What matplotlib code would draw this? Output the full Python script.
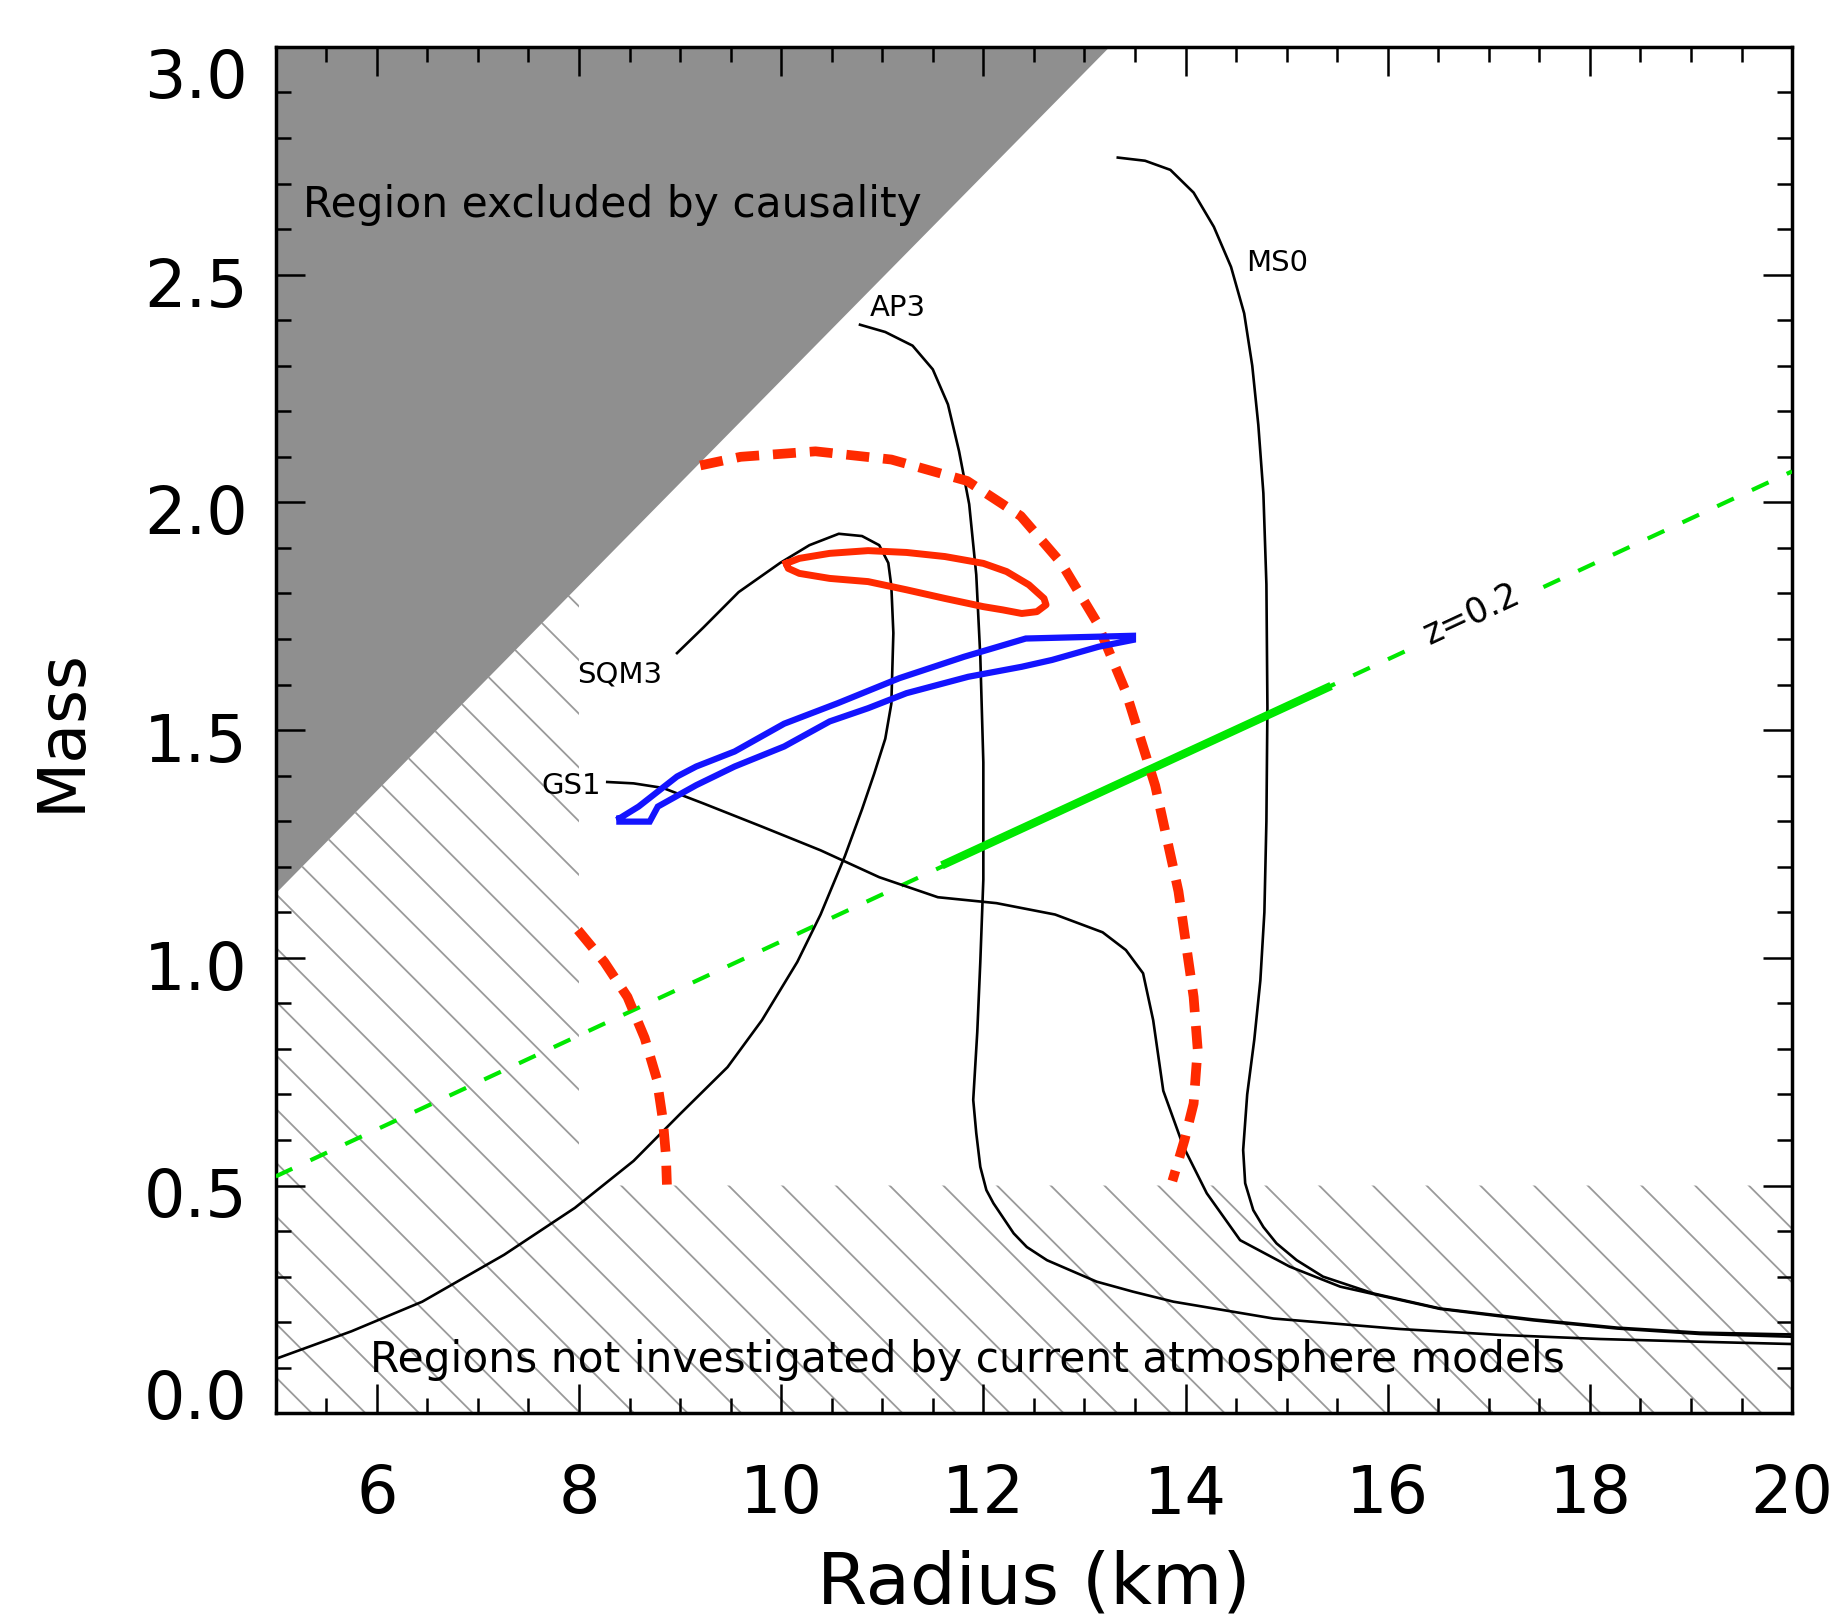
import numpy as np
import matplotlib.pyplot as plt
from matplotlib.collections import LineCollection
from matplotlib.patches import Polygon
from matplotlib.transforms import ScaledTranslation

# ---- data (radius in km, mass in Msun) ----
ms0_r = [13.33, 13.60, 13.85, 14.08, 14.28, 14.45, 14.58, 14.66, 14.72, 14.77, 14.80,
         14.81, 14.80, 14.78, 14.74, 14.68, 14.61, 14.57, 14.59, 14.67, 14.77, 14.90,
         15.10, 15.36, 15.86, 16.52, 17.44, 18.27, 19.09, 20.0]
ms0_m = [2.757, 2.75, 2.73, 2.68, 2.605, 2.517, 2.415, 2.30, 2.17, 2.02, 1.82,
         1.55, 1.30, 1.10, 0.95, 0.82, 0.70, 0.578, 0.505, 0.446, 0.409, 0.373,
         0.336, 0.30, 0.263, 0.230, 0.206, 0.188, 0.177, 0.173]

ap3_r = [10.78, 11.03, 11.30, 11.50, 11.65, 11.76, 11.86, 11.93, 11.97, 12.00, 12.00,
         11.97, 11.94, 11.90, 11.93, 11.97, 12.03, 12.10, 12.30, 12.43, 12.63, 13.12,
         13.48, 13.88, 14.87, 16.12, 17.11, 18.10, 19.09, 20.0]
ap3_m = [2.39, 2.374, 2.344, 2.292, 2.215, 2.112, 1.996, 1.841, 1.661, 1.429, 1.172,
         0.991, 0.837, 0.688, 0.615, 0.541, 0.490, 0.461, 0.395, 0.365, 0.336, 0.289,
         0.267, 0.245, 0.208, 0.185, 0.172, 0.163, 0.157, 0.152]

sqm3_r = [8.97, 9.23, 9.58, 9.99, 10.28, 10.57, 10.80, 10.97, 11.06, 11.09, 11.11,
          11.09, 11.03, 10.92, 10.80, 10.63, 10.39, 10.16, 9.81, 9.47, 9.00, 8.54,
          7.96, 7.26, 6.45, 5.75, 5.02]
sqm3_m = [1.669, 1.725, 1.803, 1.867, 1.906, 1.931, 1.926, 1.906, 1.867, 1.816, 1.713,
          1.558, 1.481, 1.404, 1.326, 1.223, 1.095, 0.991, 0.863, 0.760, 0.657, 0.554,
          0.451, 0.348, 0.245, 0.180, 0.121]

gs1_r = [8.28, 8.54, 8.83, 9.23, 9.81, 10.39, 10.97, 11.55, 12.13, 12.71, 13.18,
         13.41, 13.58, 13.68, 13.78, 13.98, 14.21, 14.54, 15.03, 15.53, 16.52, 17.44,
         18.27, 19.09, 20.0]
gs1_m = [1.386, 1.383, 1.373, 1.339, 1.288, 1.236, 1.177, 1.133, 1.120, 1.095, 1.056,
         1.017, 0.966, 0.863, 0.708, 0.585, 0.483, 0.380, 0.322, 0.278, 0.229, 0.204,
         0.186, 0.174, 0.168]

# dashed red arcs
arc_big_r = [9.20, 9.60, 10.34, 11.09, 11.84, 12.37, 12.77, 13.12, 13.41, 13.70, 13.93,
             14.08, 14.12, 14.08, 13.99, 13.87]
arc_big_m = [2.081, 2.10, 2.112, 2.094, 2.047, 1.970, 1.867, 1.738, 1.584, 1.378, 1.146,
             0.914, 0.80, 0.68, 0.60, 0.51]
arc_small_r = [7.99, 8.25, 8.48, 8.65, 8.77, 8.83, 8.86, 8.87]
arc_small_m = [1.061, 0.991, 0.914, 0.824, 0.734, 0.644, 0.567, 0.502]

# solid red contour
red_r = [10.05, 10.18, 10.48, 10.86, 11.24, 11.62, 12.00, 12.23, 12.45, 12.60, 12.62,
         12.53, 12.38, 12.19, 12.00, 11.62, 11.24, 10.86, 10.48, 10.18, 10.07, 10.05]
red_m = [1.866, 1.877, 1.888, 1.894, 1.890, 1.881, 1.866, 1.848, 1.819, 1.789, 1.775,
         1.760, 1.756, 1.764, 1.771, 1.789, 1.808, 1.826, 1.833, 1.844, 1.855, 1.866]

# blue contour
blue_r = [8.40, 8.59, 8.97, 9.16, 9.54, 10.03, 10.56, 11.17, 11.81, 12.42, 13.48,
          13.48, 13.14, 12.68, 12.38, 11.85, 11.24, 10.86, 10.48, 10.03, 9.54, 9.16,
          8.78, 8.70, 8.40, 8.40]
blue_m = [1.306, 1.332, 1.398, 1.420, 1.453, 1.514, 1.559, 1.614, 1.661, 1.701, 1.707,
          1.698, 1.683, 1.654, 1.639, 1.617, 1.581, 1.548, 1.519, 1.464, 1.420, 1.379,
          1.332, 1.299, 1.299, 1.306]

# z=0.2 line
z_dash1_r = [5.0, 16.25]
z_dash1_m = [0.52, 1.681]
z_dash2_r = [17.54, 20.0]
z_dash2_m = [1.814, 2.068]
z_solid_r = [11.59, 15.44]
z_solid_m = [1.203, 1.597]

# shaded / hatched regions
caus_r = [5.0, 5.0, 13.25]
caus_m = [3.0, 1.141, 3.0]
hatch_r = [5.0, 20.0, 20.0, 8.0, 8.0, 5.0]
hatch_m = [0.0, 0.0, 0.5, 0.5, 1.818, 1.141]

x_ticks = [6, 8, 10, 12, 14, 16, 18, 20]
y_ticks = [0.0, 0.5, 1.0, 1.5, 2.0, 2.5, 3.0]
y_labels = ['0.0', '0.5', '1.0', '1.5', '2.0', '2.5', '3.0']

RED = '#ff2a00'
BLUE = '#1414ff'
GREEN = '#00e800'

fig = plt.figure(figsize=(18.39, 16.17), dpi=100)
ax = fig.add_axes([0.1499, 0.1260, 0.8246, 0.845])
ax.set_xlim(5, 20)
ax.set_ylim(0, 3)

# causality region
ax.add_patch(Polygon(np.column_stack([caus_r, caus_m]), closed=True,
                     fc='#8f8f8f', ec='none', zorder=1.5))

# hatching: 45 deg lines in pixel space, clipped to the region
p = ax.transData.transform([(5, 0), (6, 1)])
sx = p[1, 0] - p[0, 0]
sy = p[1, 1] - p[0, 1]
k = -sx / sy
step = 53.7 / sx
segs = []
for n in range(-40, 10):
    r0 = 16.385 + n * step
    segs.append([(r0 + (2.0 - 0.5) / k, 2.0), (r0 + (-0.1 - 0.5) / k, -0.1)])
hpatch = Polygon(np.column_stack([hatch_r, hatch_m]), closed=True,
                 fc='none', ec='none', transform=ax.transData)
lc = LineCollection(segs, colors='#9a9a9a', linewidths=1.3, zorder=1)
ax.add_collection(lc)
lc.set_clip_path(hpatch)

# z = 0.2 line
ax.plot(z_dash1_r, z_dash1_m, color=GREEN, lw=3, dashes=(4.4, 4.8), zorder=3)
ax.plot(z_dash2_r, z_dash2_m, color=GREEN, lw=3, dashes=(4.4, 4.8), zorder=3)
ax.plot(z_solid_r, z_solid_m, color=GREEN, lw=6, solid_capstyle='butt', zorder=3.5)

# EoS curves
for r, m in [(ms0_r, ms0_m), (ap3_r, ap3_m), (sqm3_r, sqm3_m), (gs1_r, gs1_m)]:
    ax.plot(r, m, color='black', lw=1.9, zorder=3, solid_joinstyle='round')

# red dashed arcs
ax.plot(arc_big_r, arc_big_m, color=RED, lw=7, dashes=(2.36, 1.43), zorder=4)
ax.plot(arc_small_r, arc_small_m, color=RED, lw=7, dashes=(2.36, 1.43), zorder=4)

# contours
ax.plot(red_r, red_m, color=RED, lw=5, zorder=4, solid_joinstyle='round')
ax.plot(blue_r, blue_m, color=BLUE, lw=4.5, zorder=4, solid_joinstyle='miter')

# labels
ax.text(14.60, 2.525, 'MS0', fontsize=21, va='center', ha='left', zorder=5)
ax.text(10.88, 2.426, 'AP3', fontsize=21, va='center', ha='left', zorder=5)
ax.text(7.98, 1.622, 'SQM3', fontsize=21, va='center', ha='left', zorder=5)
ax.text(7.63, 1.378, 'GS1', fontsize=21, va='center', ha='left', zorder=5)
ax.text(16.83, 1.755, 'z=0.2', fontsize=25, va='center', ha='center',
        rotation=25, rotation_mode='anchor', zorder=5)
ax.text(5.27, 2.653, 'Region excluded by causality', fontsize=30.5,
        va='center', ha='left', zorder=5)
ax.text(5.93, 0.116, 'Regions not investigated by current atmosphere models',
        fontsize=30.5, va='center', ha='left', zorder=5)

# axes styling
ax.set_xticks(x_ticks)
ax.set_xticks(np.arange(5, 20.01, 0.5), minor=True)
ax.set_yticks(y_ticks)
ax.set_yticklabels(y_labels)
ax.set_yticks(np.arange(0, 3.001, 0.1), minor=True)
ax.tick_params(which='both', direction='in', top=True, right=True, width=1.8)
ax.tick_params(which='major', length=21, labelsize=47)
ax.tick_params(which='minor', length=10.5)
ax.tick_params(axis='x', which='major', pad=36)
ax.tick_params(axis='y', which='major', pad=20)
for s in ax.spines.values():
    s.set_linewidth(2.5)

y_shift = [14, -5, -5, -5, -5, -5, -19]
for tick, dy in zip(ax.yaxis.get_major_ticks(), y_shift):
    tick.label1.set_transform(tick.label1.get_transform()
                              + ScaledTranslation(0, dy / 72, fig.dpi_scale_trans))

ax.set_xlabel('Radius (km)', fontsize=52)
ax.set_ylabel('Mass', fontsize=47)
ax.xaxis.set_label_coords(0.5, -0.100)
ax.yaxis.set_label_coords(-0.12, 0.5)

fig.savefig('out.png', dpi=100)
